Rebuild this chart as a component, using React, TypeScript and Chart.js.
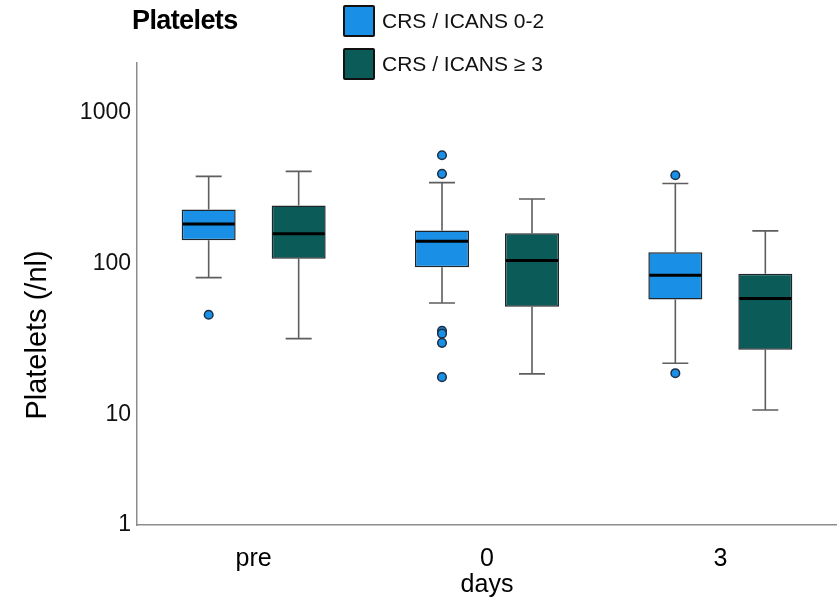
import React, { useEffect, useRef } from 'react';
import { Chart, registerables } from 'chart.js';

Chart.register(...registerables);

const FONT = '"Liberation Sans", Arial, Helvetica, sans-serif';

// Categories and series
const categories = ['pre', '0', '3'];
const seriesNames = ['CRS / ICANS 0-2', 'CRS / ICANS \u2265 3'];
const seriesColors = ['#1a8fe6', '#0b5c59'];

// CRS / ICANS 0-2
const lowWhiskerLo = [81, 55, 22];
const lowQ1 = [143, 95, 58];
const lowMedian = [183, 141, 84];
const lowQ3 = [228, 166, 119];
const lowWhiskerHi = [378, 344, 339];
const lowOutliers = [[46], [522, 393, 36, 34.5, 30, 17.8], [385, 18.9]];

// CRS / ICANS >= 3
const highWhiskerLo = [32, 18.7, 10.8];
const highQ1 = [108, 52, 27];
const highMedian = [158, 105, 59];
const highQ3 = [243, 159, 86];
const highWhiskerHi = [408, 268, 165];
const highOutliers = [[], [], []];

// Axis
const yMin = 1.874;
const yMax = 2125;
const yTickValues = [yMin, 10, 100, 1000];
const yTickLabels = ['1', '10', '100', '1000'];
const yTitle = 'Platelets (/nl)';
const xTitle = 'days';
const chartTitle = 'Platelets';

const stats = [
  { lo: lowWhiskerLo, q1: lowQ1, med: lowMedian, q3: lowQ3, hi: lowWhiskerHi, out: lowOutliers },
  { lo: highWhiskerLo, q1: highQ1, med: highMedian, q3: highQ3, hi: highWhiskerHi, out: highOutliers },
];

const boxPlugin = {
  id: 'boxExtras',
  beforeDatasetsDraw(chart: any) {
    const y = chart.scales.y;
    const ctx = chart.ctx;
    stats.forEach((st, di) => {
      const meta = chart.getDatasetMeta(di);
      meta.data.forEach((bar: any, i: number) => {
        const x = bar.x;
        const pHi = y.getPixelForValue(st.hi[i]);
        const pLo = y.getPixelForValue(st.lo[i]);
        const pQ3 = y.getPixelForValue(st.q3[i]);
        const pQ1 = y.getPixelForValue(st.q1[i]);
        ctx.save();
        ctx.strokeStyle = '#5e5e5e';
        ctx.lineWidth = 1.6;
        ctx.beginPath();
        ctx.moveTo(x, pQ3);
        ctx.lineTo(x, pHi);
        ctx.moveTo(x - 13, pHi);
        ctx.lineTo(x + 13, pHi);
        ctx.moveTo(x, pQ1);
        ctx.lineTo(x, pLo);
        ctx.moveTo(x - 13, pLo);
        ctx.lineTo(x + 13, pLo);
        ctx.stroke();
        ctx.restore();
      });
    });
  },
  afterDatasetsDraw(chart: any) {
    const y = chart.scales.y;
    const ctx = chart.ctx;
    stats.forEach((st, di) => {
      const meta = chart.getDatasetMeta(di);
      meta.data.forEach((bar: any, i: number) => {
        const x = bar.x;
        const half = bar.width / 2;
        const pMed = y.getPixelForValue(st.med[i]);
        ctx.save();
        ctx.strokeStyle = '#000';
        ctx.lineWidth = 3;
        ctx.beginPath();
        ctx.moveTo(x - half + 1, pMed);
        ctx.lineTo(x + half - 1, pMed);
        ctx.stroke();
        st.out[i].forEach((v: number) => {
          const py = y.getPixelForValue(v);
          ctx.beginPath();
          ctx.arc(x, py, 4.3, 0, Math.PI * 2);
          ctx.fillStyle = seriesColors[di];
          ctx.fill();
          ctx.lineWidth = 1.5;
          ctx.strokeStyle = '#1b2f45';
          ctx.stroke();
        });
        ctx.restore();
      });
    });
  },
  afterDraw(chart: any) {
    const ctx = chart.ctx;
    ctx.save();
    ctx.translate(38, 335);
    ctx.rotate(-Math.PI / 2);
    ctx.textAlign = 'center';
    ctx.textBaseline = 'middle';
    ctx.fillStyle = '#000';
    ctx.font = `29px ${FONT}`;
    ctx.fillText(yTitle, 0, 0);
    ctx.restore();
  },
};

export default function App() {
  const ref = useRef<HTMLCanvasElement | null>(null);

  useEffect(() => {
    if (!ref.current) return;
    const chart = new Chart(ref.current, {
      type: 'bar',
      data: {
        labels: categories,
        datasets: stats.map((st, di) => ({
          label: seriesNames[di],
          data: categories.map((_, i) => [st.q1[i], st.q3[i]]),
          backgroundColor: seriesColors[di],
          borderColor: '#1f262b',
          borderWidth: 1.5,
          borderSkipped: false,
          categoryPercentage: 0.7714,
          barPercentage: 0.6,
        })) as any,
      },
      options: {
        animation: false,
        responsive: true,
        maintainAspectRatio: false,
        layout: { padding: { top: 63, left: 0, right: 0, bottom: 0 } },
        plugins: {
          legend: { display: false },
          tooltip: { enabled: false },
          title: { display: false },
        },
        scales: {
          x: {
            type: 'category',
            offset: true,
            grid: { display: false, drawTicks: false },
            border: { display: true, color: '#8c8c8c', width: 1.5 },
            ticks: { font: { size: 25, family: FONT }, color: '#000', padding: 19 },
            title: {
              display: true,
              text: xTitle,
              font: { size: 25, family: FONT },
              color: '#000',
              padding: { top: 0, bottom: 6 },
            },
            afterFit(s: any) {
              s.height = 81;
            },
          },
          y: {
            type: 'logarithmic',
            min: yMin,
            max: yMax,
            grid: { display: false, drawTicks: false },
            border: { display: true, color: '#8c8c8c', width: 1.5 },
            ticks: {
              font: { size: 23, family: FONT },
              color: '#111',
              padding: 6,
              autoSkip: false,
              callback: (_v: any, index: number) => yTickLabels[index],
            },
            afterBuildTicks(s: any) {
              s.ticks = yTickValues.map((v) => ({ value: v }));
            },
            afterFit(s: any) {
              s.width = 137;
            },
          },
        } as any,
      },
      plugins: [boxPlugin],
    });
    return () => chart.destroy();
  }, []);

  const legendRow = (i: number, top: number) => (
    <div key={i} style={{ position: 'absolute', left: 343, top, display: 'flex', alignItems: 'center' }}>
      <div
        style={{
          width: 28,
          height: 28,
          background: seriesColors[i],
          border: '2.5px solid #111',
          borderRadius: 2,
        }}
      />
      <span style={{ marginLeft: 7, fontFamily: FONT, fontSize: 21, color: '#111', whiteSpace: 'nowrap' }}>
        {seriesNames[i]}
      </span>
    </div>
  );

  return (
    <div style={{ position: 'fixed', left: 0, top: 0, width: 837, height: 606, background: '#fff' }}>
      <canvas ref={ref} style={{ position: 'absolute', left: 0, top: 0, width: 837, height: 606 }} />
      <div
        style={{
          position: 'absolute',
          left: 132,
          top: 7,
          fontFamily: FONT,
          fontWeight: 'bold',
          fontSize: 27,
          lineHeight: '27px',
          letterSpacing: -0.6,
          color: '#000',
        }}
      >
        {chartTitle}
      </div>
      {legendRow(0, 5)}
      {legendRow(1, 48)}
    </div>
  );
}
